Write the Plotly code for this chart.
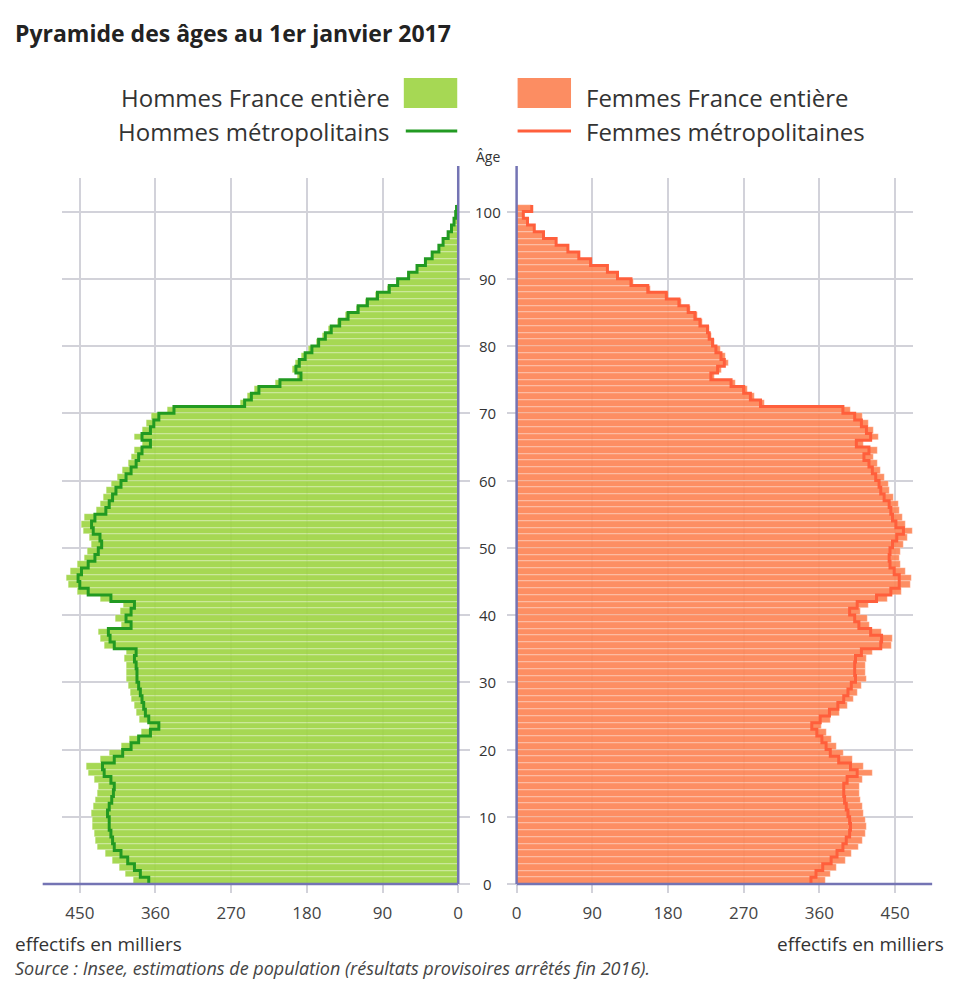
"""Pyramide des âges au 1er janvier 2017 (Insee)."""

import plotly.graph_objects as go

# the page body keeps an 8px margin, so the figure is 16px smaller
# and every reference pixel is shifted by 8
W, H = 943, 974
OFF = 8

ages = list(range(0, 101))

# effectifs en milliers, age 0 .. 100 (100 = 100 ans et plus)
hommes_france = [
    386, 396, 403, 411, 419, 429, 431, 433, 435, 435,
    436, 434, 431, 429, 428, 432, 440, 442, 426, 415,
    401, 391, 377, 367, 379, 383, 385, 388, 390, 392,
    394, 394, 395, 397, 395, 421, 426, 428, 401, 407,
    402, 398, 426, 453, 463, 466, 461, 453, 445, 441,
    436, 438, 446, 448, 444, 430, 426, 422, 418, 412,
    405, 399, 392, 389, 385, 375, 385, 375, 371, 365,
    346, 259, 251, 242, 217, 191, 197, 193, 186, 178,
    169, 161, 154, 144, 134, 121, 110, 98, 84, 73,
    60, 50, 40, 32, 23, 18, 12, 8, 5, 3,
    2,
]
hommes_metro = [
    368, 378, 385, 393, 401, 409, 411, 413, 415, 415,
    417, 415, 412, 410, 409, 413, 421, 423, 409, 399,
    389, 380, 366, 356, 368, 372, 374, 376, 378, 380,
    382, 382, 383, 385, 383, 409, 414, 416, 389, 395,
    389, 385, 413, 440, 450, 452, 448, 440, 432, 428,
    424, 426, 434, 436, 432, 419, 415, 411, 407, 401,
    395, 389, 383, 380, 376, 366, 376, 366, 362, 356,
    338, 254, 246, 237, 212, 187, 193, 189, 182, 174,
    166, 158, 151, 141, 131, 119, 108, 96, 82, 72,
    59, 49, 39, 31, 23, 18, 12, 8, 5, 3,
    2,
]
femmes_france = [
    367, 373, 381, 391, 398, 407, 411, 415, 416, 415,
    413, 411, 409, 408, 408, 412, 423, 413, 399, 389,
    380, 375, 369, 363, 373, 384, 394, 401, 406, 410,
    416, 415, 415, 416, 423, 446, 447, 434, 420, 417,
    409, 418, 441, 458, 468, 470, 462, 457, 456, 457,
    460, 465, 471, 463, 459, 456, 454, 448, 444, 442,
    437, 433, 429, 424, 429, 413, 430, 425, 419, 411,
    397, 295, 283, 275, 260, 236, 244, 252, 248, 242,
    236, 232, 230, 221, 215, 207, 196, 181, 159, 139,
    121, 109, 89, 75, 62, 48, 33, 21, 13, 8,
    18,
]
femmes_metro = [
    350, 356, 364, 374, 381, 388, 392, 396, 397, 396,
    394, 392, 390, 389, 389, 393, 405, 397, 383, 373,
    368, 363, 357, 351, 361, 372, 382, 389, 394, 398,
    403, 402, 402, 403, 410, 433, 434, 421, 407, 402,
    396, 405, 428, 445, 455, 455, 449, 444, 443, 444,
    447, 452, 460, 451, 447, 445, 443, 437, 433, 431,
    427, 423, 419, 413, 419, 404, 421, 416, 410, 402,
    388, 290, 278, 270, 255, 231, 239, 247, 243, 237,
    233, 229, 227, 218, 212, 204, 193, 178, 156, 136,
    120, 108, 88, 74, 61, 47, 32, 21, 13, 8,
    18,
]

x_ticks = [0, 90, 180, 270, 360, 450]
age_ticks = [0, 10, 20, 30, 40, 50, 60, 70, 80, 90, 100]

GREEN_BAR = "#9fd545"
GREEN_LINE = "#229a22"
ORANGE_BAR = "#fd8556"
ORANGE_LINE = "#ff5f3c"
AXIS_BLUE = "#7474b4"
GRID = "#d2d2da"
TEXT = "#333333"
FONT = "Open Sans"


def px(x):
    return (x - OFF) / W


def py(y):
    return 1 - (y - OFF) / H


fig = go.Figure()

fig.add_trace(go.Bar(
    x=hommes_france, y=ages, orientation="h", width=1, offset=0,
    marker=dict(color=GREEN_BAR, line=dict(color="rgba(255,255,255,0.55)", width=0.6)),
    opacity=0.92, name="Hommes France entière",
    xaxis="x", yaxis="y",
))
fig.add_trace(go.Scatter(
    x=hommes_metro + [hommes_metro[-1]], y=ages + [ages[-1] + 1],
    mode="lines", line=dict(color=GREEN_LINE, width=3, shape="vh"),
    name="Hommes métropolitains", xaxis="x", yaxis="y",
))
fig.add_trace(go.Bar(
    x=femmes_france, y=ages, orientation="h", width=1, offset=0,
    marker=dict(color=ORANGE_BAR, line=dict(color="rgba(255,255,255,0.55)", width=0.6)),
    opacity=0.92, name="Femmes France entière",
    xaxis="x2", yaxis="y2",
))
fig.add_trace(go.Scatter(
    x=femmes_metro + [femmes_metro[-1]], y=ages + [ages[-1] + 1],
    mode="lines", line=dict(color=ORANGE_LINE, width=3, shape="vh"),
    name="Femmes métropolitaines", xaxis="x2", yaxis="y2",
))

x_common = dict(
    tickvals=x_ticks, ticktext=[str(v) for v in x_ticks],
    showgrid=True, gridcolor=GRID, gridwidth=1.5,
    ticks="outside", ticklen=8, tickcolor=GRID, tickwidth=1.5,
    zeroline=False, showline=False, fixedrange=True,
    tickfont=dict(family=FONT, size=17, color="#444"),
    ticklabelstandoff=6,
)
y_common = dict(
    range=[0, 105], tickvals=age_ticks, showticklabels=False,
    domain=[py(884), py(178)],
    showgrid=True, gridcolor=GRID, gridwidth=1.5,
    ticks="outside", tickcolor=GRID, tickwidth=1.5,
    zeroline=False, showline=False, fixedrange=True,
)

fig.update_layout(
    width=W, height=H,
    margin=dict(l=0, r=0, t=0, b=0),
    paper_bgcolor="white", plot_bgcolor="white",
    showlegend=False, barmode="overlay", bargap=0,
    font=dict(family=FONT, color=TEXT),
    xaxis=dict(domain=[px(58), px(458)], range=[(458 - 58) / 0.85, 0], anchor="y", **x_common),
    xaxis2=dict(domain=[px(517), px(918)], range=[0, (918 - 517) / 0.85], anchor="y2", **x_common),
    yaxis=dict(anchor="x", side="right", ticklen=11, **y_common),
    yaxis2=dict(anchor="x2", side="left", ticklen=9, **y_common),
)

# axis lines drawn in the reference style
line_blue = dict(color=AXIS_BLUE, width=2.5)
for x in (458, 517):
    fig.add_shape(type="line", xref="paper", yref="paper",
                  x0=px(x), x1=px(x), y0=py(884), y1=py(166), line=line_blue)
fig.add_shape(type="line", xref="paper", yref="paper",
              x0=px(38), x1=px(458), y0=py(884), y1=py(884), line=line_blue)
fig.add_shape(type="line", xref="paper", yref="paper",
              x0=px(517), x1=px(937), y0=py(884), y1=py(884), line=line_blue)

# custom legend
fig.add_shape(type="rect", xref="paper", yref="paper", x0=px(403), x1=px(457),
              y0=py(108), y1=py(78), fillcolor="#a6d854", line=dict(width=0))
fig.add_shape(type="line", xref="paper", yref="paper", x0=px(405), x1=px(457),
              y0=py(131), y1=py(131), line=dict(color=GREEN_LINE, width=3))
fig.add_shape(type="rect", xref="paper", yref="paper", x0=px(518), x1=px(572),
              y0=py(108), y1=py(78), fillcolor="#fc8d62", line=dict(width=0))
fig.add_shape(type="line", xref="paper", yref="paper", x0=px(518), x1=px(572),
              y0=py(131), y1=py(131), line=dict(color=ORANGE_LINE, width=3))

legend_font = dict(family=FONT, size=24, color=TEXT)
for text, x, y, anchor in [
    ("Hommes France entière", 391, 97, "right"),
    ("Hommes métropolitains", 391, 131, "right"),
    ("Femmes France entière", 585, 97, "left"),
    ("Femmes métropolitaines", 585, 131, "left"),
]:
    fig.add_annotation(text=text, x=px(x), y=py(y), xref="paper", yref="paper",
                       xanchor=anchor, yanchor="middle", showarrow=False, font=legend_font)

# age labels between the two halves
for a in age_ticks:
    fig.add_annotation(text=str(a), x=px(488), y=a, xref="paper", yref="y",
                       xanchor="center", yanchor="middle", showarrow=False,
                       font=dict(family=FONT, size=15, color=TEXT))
fig.add_annotation(text="Âge", x=px(488), y=py(156), xref="paper", yref="paper",
                   xanchor="center", yanchor="middle", showarrow=False,
                   font=dict(family=FONT, size=14, color=TEXT))

fig.add_annotation(text="<b>Pyramide des âges au 1er janvier 2017</b>",
                   x=px(8), y=py(33), xref="paper", yref="paper",
                   xanchor="left", yanchor="middle", showarrow=False,
                   font=dict(family=FONT, size=23, color="#222"))
fig.add_annotation(text="effectifs en milliers", x=px(8), y=py(944),
                   xref="paper", yref="paper", xanchor="left", yanchor="middle",
                   showarrow=False, font=dict(family=FONT, size=19, color=TEXT))
fig.add_annotation(text="effectifs en milliers", x=px(951), y=py(944),
                   xref="paper", yref="paper", xanchor="right", yanchor="middle",
                   showarrow=False, font=dict(family=FONT, size=19, color=TEXT))
fig.add_annotation(
    text="<i>Source : Insee, estimations de population (résultats provisoires arrêtés fin 2016).</i>",
    x=px(8), y=py(982), xref="paper", yref="paper", xanchor="left", yanchor="bottom",
    showarrow=False, font=dict(family=FONT, size=18, color="#444"),
)

fig.write_html("out.html")
